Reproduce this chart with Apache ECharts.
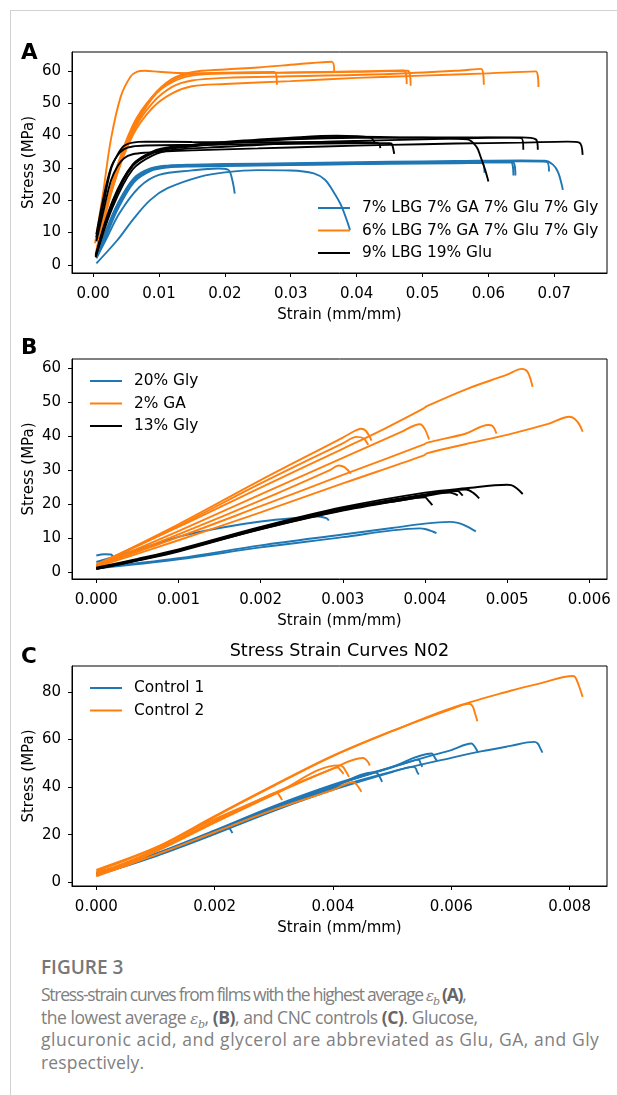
<!DOCTYPE html>
<html>
<head>
<meta charset="utf-8">
<script src="https://cdn.jsdelivr.net/npm/echarts@6.0.0/dist/echarts.min.js"></script>
<style>
	html, body { margin: 0; padding: 0; background: #fff; width: 617px; height: 1095px; overflow: hidden; }
	#frame { position: absolute; left: 10px; top: 10px; right: 0; bottom: 0; border-top: 1px solid #d2d2d2; border-left: 1px solid #d2d2d2; }
	#chart { position: absolute; left: 0; top: 0; width: 617px; height: 945px; }
	#caption { position: absolute; left: 41px; top: 956px; white-space: nowrap; font-family: "Open Sans", Lato, sans-serif; color: #808080; }
	#caption .fig { font-size: 19px; line-height: 23px; font-weight: 600; color: #777; margin-bottom: 4px; }
	#caption .txt div { font-size: 17.5px; line-height: 22.7px; height: 22.7px; }
	#caption b { color: #666; }
	#caption i { font-family: "DejaVu Serif", serif; font-size: 15px; line-height: 0; }
	#caption sub { font-size: 11px; line-height: 0; vertical-align: baseline; position: relative; top: 0.35em; }
</style>
</head>
<body>
<div id="frame"></div>
<div id="chart"></div>
<div id="caption">
	<div class="fig">FIGURE 3</div>
	<div class="txt">
		<div style="letter-spacing: -1.25px">Stress-strain curves from films with the highest average <i>ε<sub>b</sub></i> <b>(A)</b>,</div>
		<div style="letter-spacing: -0.45px">the lowest average <i>ε<sub>b</sub></i>, <b>(B)</b>, and CNC controls <b>(C)</b>. Glucose,</div>
		<div style="letter-spacing: 0.55px">glucuronic acid, and glycerol are abbreviated as Glu, GA, and Gly</div>
		<div style="letter-spacing: 0.15px">respectively.</div>
	</div>
</div>
<script>
//图例名称
var aNames = ['7% LBG 7% GA 7% Glu 7% Gly', '6% LBG 7% GA 7% Glu 7% Gly', '9% LBG 19% Glu'];
var bNames = ['20% Gly', '2% GA', '13% Gly'];
var cNames = ['Control 1', 'Control 2'];

//刻度
var aXTicks = [0, 0.01, 0.02, 0.03, 0.04, 0.05, 0.06, 0.07];
var aXLabels = ['0.00', '0.01', '0.02', '0.03', '0.04', '0.05', '0.06', '0.07'];
var aYTicks = [0, 10, 20, 30, 40, 50, 60];
var bXTicks = [0, 0.001, 0.002, 0.003, 0.004, 0.005, 0.006];
var bXLabels = ['0.000', '0.001', '0.002', '0.003', '0.004', '0.005', '0.006'];
var bYTicks = [0, 10, 20, 30, 40, 50, 60];
var cXTicks = [0, 0.002, 0.004, 0.006, 0.008];
var cXLabels = ['0.000', '0.002', '0.004', '0.006', '0.008'];
var cYTicks = [0, 20, 40, 60, 80];

//A  [strain, stress]
var aBlueCurves = [
	[[0.0005, 2.4], [0.002, 9.5], [0.0037, 17.5], [0.0062, 26], [0.0087, 29.3], [0.0113, 30.3], [0.015, 30.6], [0.025, 30.9], [0.035, 31.1], [0.045, 31.3], [0.055, 31.4], [0.059, 31.5], [0.0594, 28.5]],
	[[0.0005, 2.8], [0.002, 10.5], [0.0037, 18.5], [0.0062, 26.5], [0.0087, 29.6], [0.0113, 30.5], [0.015, 30.8], [0.025, 31.1], [0.035, 31.3], [0.045, 31.5], [0.055, 31.7], [0.0634, 31.8], [0.0638, 27.6]],
	[[0.0005, 2.2], [0.002, 9], [0.0037, 17], [0.0062, 25.5], [0.0087, 29], [0.0113, 30.1], [0.015, 30.4], [0.025, 30.7], [0.035, 31], [0.045, 31.3], [0.055, 31.6], [0.0637, 31.8], [0.0641, 27.6]],
	[[0.0005, 2.6], [0.002, 10], [0.0037, 18], [0.0062, 26.3], [0.0087, 29.5], [0.0113, 30.4], [0.015, 30.7], [0.025, 31], [0.035, 31.3], [0.045, 31.6], [0.055, 31.8], [0.065, 32], [0.0688, 31.9], [0.0692, 28.9]],
	[[0.0005, 3], [0.002, 10.8], [0.0037, 18.8], [0.0062, 26.8], [0.0087, 29.8], [0.0113, 30.7], [0.015, 31], [0.025, 31.3], [0.035, 31.6], [0.045, 31.9], [0.055, 32.1], [0.065, 32.3], [0.0685, 32.2], [0.0698, 31], [0.0706, 28.5], [0.0713, 23.2]],
	[[0.0005, 2], [0.002, 8], [0.004, 16], [0.007, 24], [0.01, 27.8], [0.015, 29.2], [0.019, 29.8], [0.0205, 29.4], [0.0211, 26.5], [0.0215, 22]],
	[[0.0005, 0.5], [0.0037, 7.7], [0.0062, 14.4], [0.0087, 20.1], [0.0113, 23.7], [0.0163, 27.3], [0.02, 28.6], [0.025, 29.3], [0.03, 29.2], [0.0335, 28.3], [0.0352, 26.3], [0.0363, 23.2], [0.0376, 18.6], [0.039, 10.8]]
];
var aOrangeCurves = [
	[[0.0003, 6.7], [0.0015, 22], [0.0027, 38.7], [0.0042, 52], [0.0057, 58.2], [0.0067, 59.7], [0.0078, 60], [0.01, 59.7], [0.013, 59.3], [0.02, 59.2], [0.03, 59.4], [0.04, 59.7], [0.0478, 60], [0.0482, 55.4]],
	[[0.0004, 3], [0.003, 25], [0.006, 42], [0.009, 52], [0.012, 57.5], [0.015, 59.6], [0.02, 60.4], [0.025, 61], [0.031, 62], [0.0362, 62.8], [0.0366, 59.6]],
	[[0.0004, 2.5], [0.003, 24], [0.006, 41], [0.009, 51.5], [0.012, 57], [0.015, 59], [0.02, 59.4], [0.0275, 59.6], [0.0279, 55.7]],
	[[0.0004, 3.5], [0.003, 26], [0.006, 43], [0.009, 52], [0.012, 56.5], [0.015, 58.5], [0.02, 59.2], [0.03, 59.5], [0.04, 59.8], [0.0472, 60.1], [0.0476, 55.9]],
	[[0.0004, 3], [0.003, 25], [0.006, 41], [0.009, 50], [0.012, 55], [0.015, 57], [0.02, 57.8], [0.03, 58.3], [0.045, 59], [0.055, 60], [0.0589, 60.6], [0.0593, 55.7]],
	[[0.0004, 2.8], [0.003, 24], [0.006, 40], [0.009, 48.5], [0.012, 53], [0.015, 55.2], [0.02, 55.9], [0.03, 56.8], [0.04, 57.8], [0.05, 58.5], [0.06, 59.2], [0.0672, 59.8], [0.0676, 55]]
];
var aBlackCurves = [
	[[0.0005, 8.5], [0.0015, 18], [0.0027, 29.5], [0.0037, 34], [0.0047, 36.8], [0.006, 37.8], [0.008, 38.1], [0.015, 38], [0.025, 37.9], [0.035, 38], [0.0432, 37.7], [0.0436, 36.1]],
	[[0.0005, 9.5], [0.0015, 20], [0.0027, 30], [0.0037, 33.8], [0.0047, 35.8], [0.006, 36.6], [0.008, 36.9], [0.015, 37.1], [0.025, 37.3], [0.035, 37.5], [0.045, 37.6], [0.0453, 37.5], [0.0457, 34.3]],
	[[0.0005, 7.3], [0.0015, 16], [0.0027, 26], [0.0037, 30.5], [0.0047, 33], [0.006, 34.2], [0.008, 34.7], [0.015, 35.4], [0.025, 36], [0.035, 36.6], [0.045, 37.1], [0.055, 37.5], [0.065, 37.8], [0.072, 38.1], [0.0738, 37.8], [0.0743, 34]],
	[[0.0004, 2.6], [0.003, 19], [0.006, 30.5], [0.009, 34.5], [0.012, 36], [0.02, 37.5], [0.03, 38.8], [0.04, 39.3], [0.05, 39.3], [0.0568, 38.8], [0.0582, 36.5], [0.0588, 33.5], [0.0595, 29.4], [0.06, 25.8]],
	[[0.0004, 3], [0.003, 20], [0.006, 31], [0.009, 35], [0.012, 36.5], [0.02, 37.8], [0.03, 39], [0.04, 39.6], [0.05, 39.4], [0.06, 39.4], [0.065, 39.2], [0.0653, 35.6]],
	[[0.0004, 2.4], [0.003, 18], [0.006, 29.5], [0.009, 33.8], [0.012, 35.5], [0.02, 36.5], [0.03, 37.6], [0.04, 38.3], [0.05, 38.8], [0.06, 39.3], [0.065, 39.4], [0.0672, 38.8], [0.0675, 35.6]],
	[[0.0004, 2.8], [0.003, 19.5], [0.006, 30.8], [0.009, 34.8], [0.012, 36.3], [0.02, 38], [0.03, 39.3], [0.037, 39.9], [0.042, 39.4], [0.0428, 37.5]]
];

//B
var bBlueCurves = [
	[[0, 4.8], [0.0001, 5.2], [0.00018, 5.1], [0.0002, 4.5]],
	[[0, 2.9], [0.0005, 6.5], [0.001, 10.3], [0.0015, 12.9], [0.002, 14.8], [0.0025, 16], [0.0027, 16.3], [0.0028, 15.8], [0.00283, 15.1]],
	[[0, 1.2], [0.001, 4], [0.002, 7.8], [0.003, 11], [0.0036, 12.9], [0.004, 14.2], [0.0043, 14.7], [0.0044, 14.4], [0.00449, 13.6], [0.00462, 11.9]],
	[[0, 1], [0.001, 3.7], [0.002, 7.2], [0.003, 10.2], [0.0036, 12.2], [0.00394, 12.8], [0.004, 12.6], [0.0041, 11.8], [0.00414, 11.4]]
];
var bOrangeCurves = [
	[[0, 2.2], [0.001, 13.2], [0.002, 24.8], [0.003, 36.2], [0.0035, 42], [0.00398, 48], [0.00403, 48.8], [0.0045, 53.7], [0.005, 58], [0.00518, 59.7], [0.00525, 58.8], [0.00531, 54.4]],
	[[0, 2], [0.001, 14], [0.002, 27], [0.003, 39.5], [0.00315, 41.5], [0.00322, 42.1], [0.00328, 41.5], [0.00335, 38.6]],
	[[0, 1.8], [0.001, 13.5], [0.002, 26], [0.003, 37.8], [0.00317, 39.7], [0.00325, 39.3], [0.00331, 37.4]],
	[[0, 1.7], [0.001, 12], [0.002, 22.8], [0.003, 33.5], [0.0037, 41], [0.00394, 43.4], [0.004, 41.9], [0.00405, 38.9]],
	[[0, 1.5], [0.001, 11], [0.002, 21], [0.00285, 30], [0.00295, 31.3], [0.00302, 30.8], [0.0031, 28.9]],
	[[0, 1.6], [0.001, 10.2], [0.002, 19.3], [0.003, 28.5], [0.00398, 37.4], [0.00403, 38], [0.0045, 40.7], [0.00477, 43.2], [0.00482, 43], [0.00487, 40.7]],
	[[0, 1.4], [0.001, 9.3], [0.002, 17.5], [0.003, 26], [0.00398, 34.2], [0.00403, 34.9], [0.0045, 37.6], [0.005, 40.3], [0.0055, 43.5], [0.00576, 45.6], [0.00582, 45], [0.00588, 43.3], [0.00592, 41.2]]
];
var bBlackCurves = [
	[[0, 0.8], [0.0005, 3.3], [0.001, 6], [0.002, 12.6], [0.003, 18.2], [0.0037, 21], [0.004, 21.9], [0.00404, 21], [0.00409, 19.6]],
	[[0, 1.1], [0.0005, 3.6], [0.001, 6.4], [0.002, 13], [0.003, 18.7], [0.004, 22.5], [0.0044, 23.8], [0.00443, 23.2], [0.00446, 22.4]],
	[[0, 1], [0.0005, 3.5], [0.001, 6.3], [0.002, 12.8], [0.003, 18.5], [0.004, 22.8], [0.0045, 24.2], [0.0046, 23], [0.00466, 21.6]],
	[[0, 1.2], [0.0005, 3.8], [0.001, 6.6], [0.002, 13.2], [0.003, 19], [0.004, 23.3], [0.0045, 24.6], [0.005, 25.6], [0.00505, 25.5], [0.00512, 24.5], [0.00519, 22.9]],
	[[0, 0.9], [0.0005, 3.4], [0.001, 6.2], [0.002, 12.5], [0.003, 18], [0.004, 22.2], [0.0043, 23.3], [0.0044, 22.5]]
];

//C
var cBlueCurves = [
	[[0, 3.5], [0.001, 11.2], [0.002, 20.5], [0.003, 30.5], [0.004, 39.5], [0.005, 46.5], [0.006, 52.3], [0.0065, 55], [0.007, 57.3], [0.0074, 59], [0.00746, 58.3], [0.0075, 56.5], [0.00754, 54.5]],
	[[0, 3.8], [0.001, 12], [0.002, 21.8], [0.003, 32], [0.004, 41], [0.005, 48.5], [0.0057, 53.5], [0.006, 55.5], [0.00634, 58.3], [0.00638, 57.5], [0.00642, 56], [0.00645, 54.5]],
	[[0, 3.2], [0.001, 11.6], [0.002, 21.3], [0.003, 31.5], [0.004, 40.5], [0.005, 48.5], [0.00567, 54.1], [0.0057, 53.3], [0.00573, 52], [0.00576, 50.9]],
	[[0, 3.6], [0.001, 11.8], [0.002, 21.5], [0.003, 31.6], [0.004, 40.6], [0.005, 48.3], [0.0054, 51.4], [0.00545, 51.6], [0.00548, 50], [0.00551, 48.5]],
	[[0, 3], [0.001, 10.9], [0.002, 20.2], [0.003, 30], [0.004, 38.8], [0.005, 46.3], [0.00536, 48.5], [0.0054, 47.8], [0.00542, 46.5], [0.00545, 45.3]],
	[[0, 3.3], [0.001, 11.4], [0.002, 21], [0.003, 31], [0.004, 40], [0.0047, 46.2], [0.00476, 45.5], [0.0048, 43.8], [0.00483, 42.2]],
	[[0, 3.4], [0.001, 11.5], [0.002, 20.8], [0.00222, 22.8], [0.00226, 22.3], [0.0023, 20.6]]
];
var cOrangeCurves = [
	[[0, 4], [0.0005, 8], [0.001, 14], [0.0015, 20.5], [0.002, 27.5], [0.003, 40.5], [0.004, 53], [0.005, 63.5], [0.006, 73.2], [0.007, 80.5], [0.0075, 83.6], [0.00806, 86.7], [0.0081, 86], [0.00815, 83], [0.00822, 77.9]],
	[[0, 4.5], [0.001, 14.5], [0.002, 27.8], [0.003, 40.8], [0.004, 53.2], [0.005, 63.6], [0.006, 72.8], [0.0063, 75], [0.00636, 74], [0.0064, 71], [0.00644, 67.7]],
	[[0, 3], [0.0005, 7], [0.001, 13], [0.002, 25.3], [0.003, 37], [0.004, 47.8], [0.0045, 52.2], [0.00455, 51.7], [0.0046, 50.2], [0.00462, 49]],
	[[0, 2.8], [0.001, 12.8], [0.002, 25], [0.003, 36.8], [0.0041, 49.1], [0.00417, 48.4], [0.00422, 46.5], [0.00427, 44.3]],
	[[0, 3.5], [0.001, 13.5], [0.002, 25.8], [0.003, 37.5], [0.004, 47.8], [0.00408, 48.2], [0.00413, 47], [0.00418, 45.5]],
	[[0, 5.2], [0.001, 14.5], [0.002, 26.5], [0.003, 37.3], [0.00305, 37.6], [0.0031, 36.2], [0.00314, 34.5]],
	[[0, 2.5], [0.001, 11.5], [0.002, 21], [0.003, 30.5], [0.004, 38.8], [0.00433, 42], [0.00438, 41.5], [0.00443, 40], [0.00448, 38]]
];

(function(window) {
	var FONT = '"DejaVu Sans", sans-serif';
	var BLUE = '#1f77b4', ORANGE = '#ff7f0e', BLACK = '#000000';

	//刻度值 -> 文字
	function labelFor(ticks, labels) {
		return function(v) {
			var best = 0;
			for(var i = 1; i < ticks.length; i++) {
				if(Math.abs(ticks[i] - v) < Math.abs(ticks[best] - v)) best = i;
			}
			return labels ? labels[best] : String(ticks[best]);
		};
	}

	function xAxis(idx, min, max, ticks, labels) {
		return {
			gridIndex: idx, type: 'value', min: min, max: max,
			splitLine: { show: false },
			axisLine: { show: true, onZero: false, lineStyle: { color: '#000', width: 1 } },
			axisTick: { show: true, length: 4, customValues: ticks, lineStyle: { color: '#000' } },
			axisLabel: { customValues: ticks, formatter: labelFor(ticks, labels), color: '#000', fontSize: 15, fontFamily: FONT, margin: 14 },
			name: 'Strain (mm/mm)', nameLocation: 'middle', nameGap: 35, nameMoveOverlap: false,
			nameTextStyle: { color: '#000', fontSize: 15, fontFamily: FONT }
		};
	}

	function yAxis(idx, min, max, ticks) {
		return {
			gridIndex: idx, type: 'value', min: min, max: max,
			splitLine: { show: false },
			axisLine: { show: true, onZero: false, lineStyle: { color: '#000', width: 1 } },
			axisTick: { show: true, length: 4, customValues: ticks, lineStyle: { color: '#000' } },
			axisLabel: { customValues: ticks, formatter: labelFor(ticks), color: '#000', fontSize: 15, fontFamily: FONT, margin: 11 },
			name: 'Stress (MPa)', nameLocation: 'middle', nameGap: 35, nameMoveOverlap: false,
			nameTextStyle: { color: '#000', fontSize: 15, fontFamily: FONT }
		};
	}

	function makeSeries(curves, name, color, idx) {
		return curves.map(function(c) {
			return {
				type: 'line', name: name, xAxisIndex: idx, yAxisIndex: idx,
				data: c, symbol: 'none', showSymbol: false,
				smooth: 0.35,
				lineStyle: { width: 1.9, color: color },
				itemStyle: { color: color },
				silent: true, animation: false
			};
		});
	}

	function legend(left, top, names) {
		return {
			orient: 'vertical', left: left, top: top, icon: 'rect',
			itemWidth: 32, itemHeight: 2, itemGap: 6.5, selectedMode: false,
			data: names,
			textStyle: { color: '#000', fontSize: 15.4, fontFamily: FONT, lineHeight: 16, padding: [0, 0, 0, 7] }
		};
	}

	function gridBox(top, height) {
		return { left: 72, top: top, width: 535, height: height, show: true, borderColor: '#000', borderWidth: 1, backgroundColor: 'transparent' };
	}

	var chart = echarts.init(document.getElementById('chart'), null, { renderer: 'canvas' });

	var series = []
		.concat(makeSeries(aBlueCurves, aNames[0], BLUE, 0))
		.concat(makeSeries(aOrangeCurves, aNames[1], ORANGE, 0))
		.concat(makeSeries(aBlackCurves, aNames[2], BLACK, 0))
		.concat(makeSeries(bBlueCurves, bNames[0], BLUE, 1))
		.concat(makeSeries(bOrangeCurves, bNames[1], ORANGE, 1))
		.concat(makeSeries(bBlackCurves, bNames[2], BLACK, 1))
		.concat(makeSeries(cBlueCurves, cNames[0], BLUE, 2))
		.concat(makeSeries(cOrangeCurves, cNames[1], ORANGE, 2));

	var option = {
		animation: false,
		backgroundColor: 'transparent',
		grid: [gridBox(52, 221), gridBox(359, 220), gridBox(666, 220)],
		xAxis: [
			xAxis(0, -0.0032, 0.078, aXTicks, aXLabels),
			xAxis(1, -0.000296, 0.006216, bXTicks, bXLabels),
			xAxis(2, -0.000411, 0.008631, cXTicks, cXLabels)
		],
		yAxis: [
			yAxis(0, -2.5, 65.8, aYTicks),
			yAxis(1, -2.1, 62.6, bYTicks),
			yAxis(2, -1.6, 90.9, cYTicks)
		],
		legend: [
			legend(313, 195, aNames),
			legend(85, 368, bNames),
			legend(85, 675, cNames)
		],
		graphic: [
			{ type: 'text', x: 21, y: 53, style: { text: 'A', font: 'bold 21.5px ' + FONT, fill: '#000', verticalAlign: 'middle' } },
			{ type: 'text', x: 21, y: 348, style: { text: 'B', font: 'bold 21.5px ' + FONT, fill: '#000', verticalAlign: 'middle' } },
			{ type: 'text', x: 21, y: 657.5, style: { text: 'C', font: 'bold 21.5px ' + FONT, fill: '#000', verticalAlign: 'middle' } },
			{ type: 'text', x: 339.5, y: 651, style: { text: 'Stress Strain Curves N02', font: '17.6px ' + FONT, fill: '#000', align: 'center', verticalAlign: 'middle' } }
		],
		series: series
	};

	chart.setOption(option);
})(window);
</script>
</body>
</html>
